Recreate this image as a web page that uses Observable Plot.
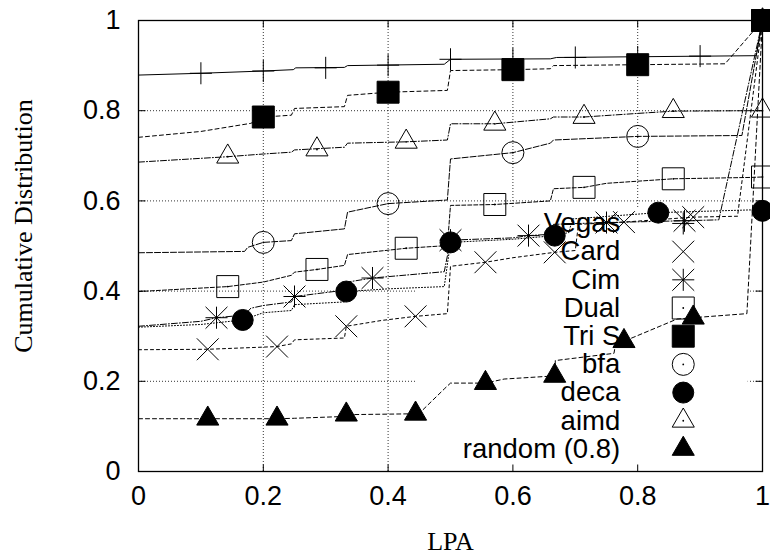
<!DOCTYPE html>
<html>
<head>
<meta charset="utf-8">
<script src="https://cdn.jsdelivr.net/npm/d3@7"></script>
<script src="https://cdn.jsdelivr.net/npm/@observablehq/plot@0.6"></script>
<style>
  html, body { margin: 0; padding: 0; background: #fff; }
</style>
</head>
<body>
<div id="chart"></div>
<script>
// Axis ticks and grid positions
const xTicks = [0, 0.2, 0.4, 0.6, 0.8, 1];
const yTicks = [0, 0.2, 0.4, 0.6, 0.8, 1];
const gridValues = [0.2, 0.4, 0.6, 0.8];

// Legend entries, in plotting order
const seriesNames = ["Vegas", "Card", "Cim", "Dual", "Tri S", "bfa", "deca", "aimd", "random (0.8)"];

// Cumulative distribution curves ([LPA, fraction]) and the sampled points marked on each
const vegasCurve = [[0,0.879],[0.1,0.883],[0.2,0.888],[0.248,0.891],[0.252,0.895],[0.33,0.896],[0.335,0.9],[0.49,0.903],[0.5,0.914],[0.66,0.915],[0.67,0.918],[0.99,0.922],[1,1]];
const vegasPoints = [[0.1,0.883],[0.2,0.888],[0.3,0.895],[0.4,0.901],[0.5,0.914],[0.6,0.915],[0.7,0.918],[0.8,0.919],[0.9,0.921],[1,1]];

const cardCurve = [[0,0.27],[0.111,0.271],[0.222,0.277],[0.245,0.283],[0.25,0.292],[0.33,0.296],[0.333,0.322],[0.39,0.335],[0.444,0.344],[0.495,0.35],[0.5,0.455],[0.556,0.464],[0.6,0.474],[0.667,0.486],[0.7,0.49],[0.705,0.548],[0.778,0.553],[0.889,0.564],[0.96,0.566],[1,1]];
const cardPoints = [[0.111,0.271],[0.222,0.277],[0.333,0.322],[0.444,0.344],[0.556,0.464],[0.667,0.486],[0.778,0.553],[0.889,0.564],[1,1]];

const cimCurve = [[0,0.322],[0.1,0.333],[0.125,0.341],[0.17,0.347],[0.18,0.362],[0.2,0.368],[0.245,0.376],[0.25,0.388],[0.33,0.402],[0.335,0.42],[0.375,0.429],[0.49,0.443],[0.5,0.513],[0.6,0.518],[0.625,0.523],[0.66,0.526],[0.665,0.548],[0.75,0.552],[0.875,0.556],[0.93,0.558],[1,1]];
const cimPoints = [[0.125,0.341],[0.25,0.388],[0.375,0.429],[0.5,0.513],[0.625,0.523],[0.75,0.552],[0.875,0.556],[1,1]];

const dualCurve = [[0,0.399],[0.143,0.41],[0.2,0.42],[0.245,0.435],[0.25,0.442],[0.286,0.448],[0.33,0.457],[0.335,0.481],[0.429,0.495],[0.495,0.501],[0.5,0.59],[0.571,0.592],[0.66,0.6],[0.665,0.627],[0.714,0.63],[0.75,0.639],[0.857,0.649],[0.98,0.652],[1,0.653],[1,1]];
const dualPoints = [[0.143,0.41],[0.286,0.448],[0.429,0.495],[0.571,0.592],[0.714,0.63],[0.857,0.649],[1,0.653]];

const triCurve = [[0,0.741],[0.1,0.754],[0.18,0.772],[0.2,0.786],[0.245,0.79],[0.25,0.805],[0.33,0.809],[0.335,0.834],[0.4,0.841],[0.495,0.845],[0.5,0.889],[0.6,0.891],[0.66,0.893],[0.665,0.9],[0.8,0.902],[0.94,0.904],[1,1]];
const triPoints = [[0.2,0.786],[0.4,0.841],[0.6,0.891],[0.8,0.902],[1,1]];

const bfaCurve = [[0,0.485],[0.17,0.488],[0.175,0.497],[0.2,0.508],[0.245,0.512],[0.25,0.527],[0.33,0.538],[0.335,0.575],[0.4,0.594],[0.495,0.602],[0.5,0.693],[0.6,0.707],[0.66,0.728],[0.665,0.735],[0.75,0.74],[0.8,0.743],[0.967,0.745],[1,1]];
const bfaPoints = [[0.2,0.508],[0.4,0.594],[0.6,0.707],[0.8,0.743],[1,1]];

const decaCurve = [[0,0.32],[0.1,0.326],[0.167,0.336],[0.2,0.352],[0.245,0.357],[0.25,0.37],[0.33,0.376],[0.333,0.399],[0.4,0.405],[0.49,0.41],[0.5,0.508],[0.6,0.515],[0.667,0.523],[0.69,0.53],[0.695,0.56],[0.833,0.574],[0.98,0.58],[1,0.578],[1,1]];
const decaPoints = [[0.167,0.336],[0.333,0.399],[0.5,0.508],[0.667,0.523],[0.833,0.574],[1,0.578]];

const aimdCurve = [[0,0.686],[0.143,0.698],[0.2,0.704],[0.245,0.708],[0.25,0.713],[0.33,0.719],[0.335,0.728],[0.429,0.731],[0.495,0.735],[0.5,0.771],[0.571,0.771],[0.66,0.782],[0.665,0.786],[0.714,0.786],[0.8,0.794],[0.857,0.799],[0.98,0.8],[1,0.8],[1,1]];
const aimdPoints = [[0.143,0.698],[0.286,0.714],[0.429,0.731],[0.571,0.771],[0.714,0.786],[0.857,0.799],[1,0.8]];

const randomCurve = [[0,0.117],[0.111,0.117],[0.222,0.117],[0.25,0.118],[0.33,0.122],[0.333,0.126],[0.444,0.128],[0.45,0.129],[0.49,0.183],[0.5,0.196],[0.556,0.196],[0.586,0.205],[0.667,0.212],[0.668,0.246],[0.762,0.262],[0.765,0.287],[0.778,0.289],[0.794,0.298],[0.863,0.338],[0.889,0.341],[0.975,0.35],[1,1]];
const randomPoints = [[0.111,0.117],[0.222,0.117],[0.333,0.126],[0.444,0.128],[0.556,0.196],[0.667,0.212],[0.778,0.289],[0.889,0.341],[1,1]];

// ---- styling ----
const sans = "'Liberation Sans', Arial, Helvetica, sans-serif";
const serif = "'Liberation Serif', 'Times New Roman', serif";
const ink = "#000";

const plusSym = {symbol: "plus", r: 7.15, fill: "none"};
const timesSym = {symbol: "times", r: 10, fill: "none"};
const openSquare = {symbol: "square", r: 12.4, fill: "none", centerDot: true};
const solidSquare = {symbol: "square", r: 12.4, fill: ink};
const openCircle = {symbol: "circle", r: 11, fill: "none", centerDot: true};
const solidCircle = {symbol: "circle", r: 10.5, fill: ink};
const openTriangle = {symbol: "triangle", r: 8.2, fill: "none", centerDot: true};
const solidTriangle = {symbol: "triangle", r: 8.2, fill: ink};

const series = [
  {curve: vegasCurve,  points: vegasPoints,  dash: null,        symbols: [plusSym]},
  {curve: cardCurve,   points: cardPoints,   dash: "3,3",       symbols: [timesSym]},
  {curve: cimCurve,    points: cimPoints,    dash: "6,2,1,2",   symbols: [plusSym, timesSym]},
  {curve: dualCurve,   points: dualPoints,   dash: "4,2",       symbols: [openSquare]},
  {curve: triCurve,    points: triPoints,    dash: "4,3",       symbols: [solidSquare]},
  {curve: bfaCurve,    points: bfaPoints,    dash: "6,2",       symbols: [openCircle]},
  {curve: decaCurve,   points: decaPoints,   dash: "1,2",       symbols: [solidCircle]},
  {curve: aimdCurve,   points: aimdPoints,   dash: "6,2,1,2",   symbols: [openTriangle]},
  {curve: randomCurve, points: randomPoints, dash: "4,3",       symbols: [solidTriangle]}
];

// Legend placement (in data units, like a gnuplot "key at")
const keyTextX = 0.772;
const keyMarkerX = 0.873;
const keyTopY = 0.55;
const keyStep = 0.0625;
// The grid is left out behind the legend block
const keyBox = [{x1: 0.447, x2: 0.977, y1: 0, y2: 0.581}];

// Short inward tick marks on all four sides of the frame
const tickLen = 7;
const tickUp = {draw(c) { c.moveTo(0, 0); c.lineTo(0, -tickLen); }};
const tickDown = {draw(c) { c.moveTo(0, 0); c.lineTo(0, tickLen); }};
const tickRight = {draw(c) { c.moveTo(0, 0); c.lineTo(tickLen, 0); }};
const tickLeft = {draw(c) { c.moveTo(0, 0); c.lineTo(-tickLen, 0); }};

function symbolMarks(data, xf, yf, sym) {
  const marks = [Plot.dot(data, {
    x: xf, y: yf, symbol: sym.symbol, r: sym.r,
    fill: sym.fill, stroke: ink, strokeWidth: 1
  })];
  if (sym.centerDot) {
    marks.push(Plot.dot(data, {x: xf, y: yf, r: 0.9, fill: ink, stroke: "none"}));
  }
  return marks;
}

const marks = [
  // dotted grid
  Plot.ruleY(gridValues, {y: d => d, stroke: ink, strokeWidth: 1, strokeDasharray: "1,2", strokeOpacity: 0.8}),
  Plot.ruleX(gridValues, {x: d => d, stroke: ink, strokeWidth: 1, strokeDasharray: "1,2", strokeOpacity: 0.8}),
  Plot.rect(keyBox, {x1: "x1", x2: "x2", y1: "y1", y2: "y2", fill: "white"}),

  // inward ticks
  Plot.dot(xTicks, {x: d => d, frameAnchor: "bottom", symbol: tickUp, stroke: ink, fill: "none", strokeWidth: 1}),
  Plot.dot(xTicks, {x: d => d, frameAnchor: "top", symbol: tickDown, stroke: ink, fill: "none", strokeWidth: 1}),
  Plot.dot(yTicks, {y: d => d, frameAnchor: "left", symbol: tickRight, stroke: ink, fill: "none", strokeWidth: 1}),
  Plot.dot(yTicks, {y: d => d, frameAnchor: "right", symbol: tickLeft, stroke: ink, fill: "none", strokeWidth: 1}),

  // legend labels
  Plot.text(seriesNames, {
    x: () => keyTextX, y: (d, i) => keyTopY - i * keyStep, text: d => d,
    textAnchor: "end", lineAnchor: "middle", fontFamily: sans, fontSize: 27.5, fill: ink
  })
];

// legend markers
series.forEach((s, i) => {
  s.symbols.forEach(sym => {
    marks.push(...symbolMarks([i], () => keyMarkerX, () => keyTopY - i * keyStep, sym));
  });
});

// curves and their point markers
series.forEach(s => {
  marks.push(Plot.line(s.curve, {
    x: d => d[0], y: d => d[1], stroke: ink, strokeWidth: 1,
    strokeDasharray: s.dash || undefined, curve: "linear"
  }));
  s.symbols.forEach(sym => {
    marks.push(...symbolMarks(s.points, d => d[0], d => d[1], sym));
  });
});

marks.push(
  Plot.frame({stroke: ink, strokeWidth: 1.3}),
  Plot.axisX(xTicks, {tickSize: 0, tickPadding: 14, tickFormat: d => String(d), label: null, fontSize: 27, fontFamily: sans}),
  Plot.axisY(yTicks, {tickSize: 0, tickPadding: 18, tickFormat: d => String(d), label: null, fontSize: 27, fontFamily: sans}),
  Plot.text(["Cumulative Distribution"], {
    frameAnchor: "left", textAnchor: "middle", lineAnchor: "middle",
    rotate: -90, dx: -115, dy: -20,
    fontFamily: serif, fontSize: 26, fill: ink
  }),
  Plot.text(["LPA"], {
    frameAnchor: "bottom", textAnchor: "middle", dy: 70, lineAnchor: "middle",
    fontFamily: serif, fontSize: 26, fill: ink
  })
);

const chart = Plot.plot({
  width: 770,
  height: 557,
  marginLeft: 138,
  marginRight: 8,
  marginTop: 20,
  marginBottom: 86,
  x: {domain: [0, 1]},
  y: {domain: [0, 1]},
  style: {background: "white", color: ink, fontFamily: sans, fontSize: "27px", overflow: "visible"},
  marks
});

document.getElementById("chart").appendChild(chart);
</script>
</body>
</html>
